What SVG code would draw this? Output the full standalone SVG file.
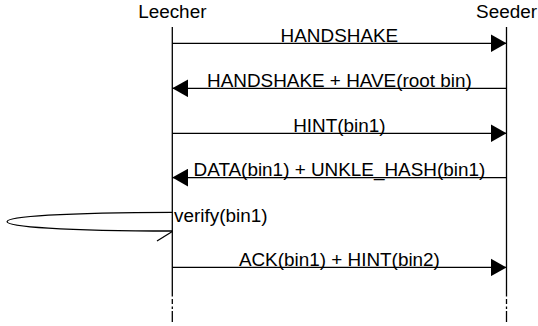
<svg xmlns="http://www.w3.org/2000/svg" width="538" height="326" viewBox="0 0 538 326">
  <style>
    .lbl { font-family: "Liberation Sans", Arial, Helvetica, sans-serif; font-size: 18.9px; fill: #000; }
    .mid { text-anchor: middle; }
    .life { stroke: #000; stroke-width: 1.3; fill: none; }
    .msg { stroke: #000; stroke-width: 1.3; fill: none; }
  </style>
  <defs>
    <marker id="arrow" markerUnits="userSpaceOnUse" markerWidth="16" markerHeight="18" refX="16" refY="9" orient="auto" viewBox="0 0 16 18">
      <path d="M0,0 L16,9 L0,18 Z" fill="#000"/>
    </marker>
  </defs>
  <rect width="538" height="326" fill="#fff"/>

  <g id="leecher">
    <text class="lbl mid" x="172.3" y="17.5">Leecher</text>
    <line class="life" x1="172.3" y1="27" x2="172.3" y2="296.5"/>
    <line class="life" x1="172.3" y1="299" x2="172.3" y2="304"/>
    <line class="life" x1="172.3" y1="306.5" x2="172.3" y2="309"/>
    <line class="life" x1="172.3" y1="311" x2="172.3" y2="322"/>
  </g>

  <g id="seeder">
    <text class="lbl mid" x="506.5" y="17.5">Seeder</text>
    <line class="life" x1="506.5" y1="27" x2="506.5" y2="296.5"/>
    <line class="life" x1="506.5" y1="299" x2="506.5" y2="304"/>
    <line class="life" x1="506.5" y1="306.5" x2="506.5" y2="309"/>
    <line class="life" x1="506.5" y1="311" x2="506.5" y2="322"/>
  </g>

  <g id="connectors">
    <line class="msg" x1="172.3" y1="43.3" x2="506.5" y2="43.3" marker-end="url(#arrow)"/>
    <text class="lbl mid" x="339.4" y="41.7">HANDSHAKE</text>

    <line class="msg" x1="506.5" y1="88.3" x2="172.3" y2="88.3" marker-end="url(#arrow)"/>
    <text class="lbl mid" x="339.4" y="86.7">HANDSHAKE + HAVE(root bin)</text>

    <line class="msg" x1="172.3" y1="133.3" x2="506.5" y2="133.3" marker-end="url(#arrow)"/>
    <text class="lbl mid" x="339.4" y="131.7">HINT(bin1)</text>

    <line class="msg" x1="506.5" y1="177.6" x2="172.3" y2="177.6" marker-end="url(#arrow)"/>
    <text class="lbl mid" x="339.4" y="176">DATA(bin1) + UNKLE_HASH(bin1)</text>

    <path class="msg" d="M172.3,212.3 C-48,212.3 -48,231 172.3,231"/>
    <path class="msg" d="M157,241 L172.3,231.5"/>
    <text class="lbl" x="174" y="221.5">verify(bin1)</text>

    <line class="msg" x1="172.3" y1="267.4" x2="506.5" y2="267.4" marker-end="url(#arrow)"/>
    <text class="lbl mid" x="339.4" y="265.8">ACK(bin1) + HINT(bin2)</text>
  </g>
</svg>
